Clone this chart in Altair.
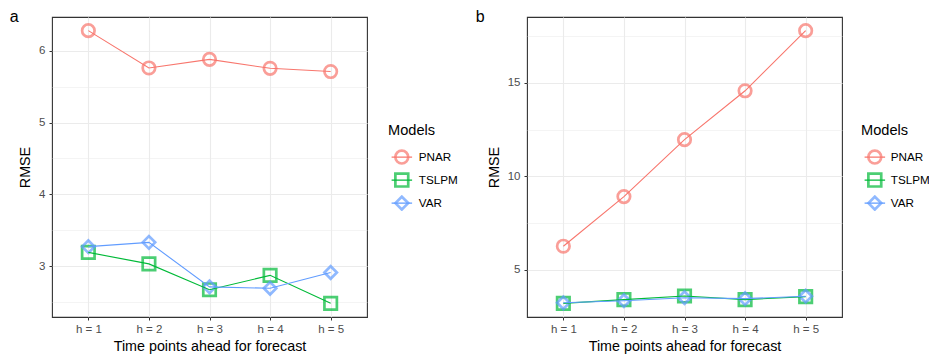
import altair as alt
import pandas as pd

horizons = ["h = 1", "h = 2", "h = 3", "h = 4", "h = 5"]
models = ["PNAR", "TSLPM", "VAR"]
colors = ["#F8766D", "#00BA38", "#619CFF"]
shapes = ["circle", "square", "diamond"]

# panel a
a_pnar = [6.28, 5.76, 5.88, 5.755, 5.71]
a_tslpm = [3.19, 3.03, 2.67, 2.87, 2.48]
a_var = [3.27, 3.33, 2.71, 2.69, 2.91]
# panel b
b_pnar = [6.27, 8.92, 11.96, 14.57, 17.78]
b_tslpm = [3.22, 3.42, 3.61, 3.42, 3.58]
b_var = [3.25, 3.36, 3.52, 3.47, 3.60]

FONT = "Liberation Sans"
W, H = 315, 300
LEG_Y = 105.5
TITLE_PAD = 12


def make_df(series):
    rows = []
    for m, vals in zip(models, series):
        for h, v in zip(horizons, vals):
            rows.append({"Model": m, "h": h, "RMSE": v})
    return pd.DataFrame(rows)


def legend(lx, **kw):
    base = dict(
        orient="none", legendX=W + lx, legendY=LEG_Y,
        titleFont=FONT, titleFontSize=14.6, titleFontWeight="normal", titleColor="black",
        labelFont=FONT, labelFontSize=11.7, labelColor="black",
        titlePadding=TITLE_PAD, rowPadding=7, clipHeight=16, padding=0,
    )
    base.update(kw)
    return alt.Legend(**base)


def panel(df, letter, domain, yvals, major, dx, lx, loff):
    minor = f"datum.value % {major} !== 0"
    x = alt.X(
        "h:N", sort=horizons,
        scale=alt.Scale(type="point", padding=0.6),
        axis=alt.Axis(title="Time points ahead for forecast", labelAngle=0, grid=True,
                      gridWidth=1.1, labelPadding=3, titlePadding=5),
    )
    y = alt.Y(
        "RMSE:Q",
        scale=alt.Scale(domain=domain, nice=False, zero=False),
        axis=alt.Axis(
            title="RMSE", values=yvals,
            labelExpr=f"datum.value % {major} === 0 ? format(datum.value, 'd') : ''",
            tickOpacity={"condition": {"test": minor, "value": 0}, "value": 1},
            gridWidth={"condition": {"test": minor, "value": 0.55}, "value": 1.1},
            labelPadding=4, titlePadding=6,
        ),
    )
    base = alt.Chart(df)
    pts_leg = dict(title="Models", symbolStrokeWidth=2.7, symbolSize=165,
                   symbolOffset=5.8, labelOffset=loff)
    pts = base.mark_point(filled=False, strokeWidth=2.7, opacity=0.7, size=155).encode(
        x=x, y=y,
        color=alt.Color("Model:N", scale=alt.Scale(range=colors), legend=legend(lx, **pts_leg)),
        shape=alt.Shape("Model:N", scale=alt.Scale(range=shapes), legend=legend(lx, **pts_leg)),
    )
    lines = base.mark_line(strokeWidth=1.1).encode(
        x=x, y=y,
        stroke=alt.Stroke("Model:N", scale=alt.Scale(domain=models, range=colors),
                          legend=legend(lx, title=None, legendY=LEG_Y + 14.6 + TITLE_PAD,
                                        symbolType="stroke", symbolSize=420,
                                        symbolStrokeWidth=1.1, symbolOffset=2.85,
                                        labelExpr="''", zindex=1, symbolOpacity=1)),
    )
    return alt.layer(pts, lines).properties(
        width=W, height=H,
        title=alt.TitleParams(letter, anchor="start", frame="group", dx=dx, offset=-8,
                              fontSize=16, fontWeight="normal", font=FONT, color="black"),
    )


pa = panel(make_df([a_pnar, a_tslpm, a_var]), "a", [2.29, 6.47],
           [2.5, 3, 3.5, 4, 4.5, 5, 5.5, 6], 1, -42.3, 21, 9)
pb = panel(make_df([b_pnar, b_tslpm, b_var]), "b", [2.49, 18.51],
           [5, 7.5, 10, 12.5, 15, 17.5], 5, -51.3, 19, 8)

chart = (
    alt.hconcat(pa, pb, spacing=16)
    .resolve_scale(y="independent", color="independent", shape="independent", stroke="independent")
    .resolve_legend(color="independent", shape="independent", stroke="independent")
    .properties(padding={"left": 1, "top": 0, "right": -2, "bottom": 0}, background="white")
    .configure_view(stroke="#333333", strokeWidth=1.1)
    .configure_axis(
        domain=False, gridColor="#EBEBEB", tickColor="#333333", tickSize=3,
        labelColor="#4D4D4D", labelFont=FONT, labelFontSize=11.5,
        titleFont=FONT, titleFontSize=14.3, titleFontWeight="normal", titleColor="black",
    )
)

chart.save("out.html", embed_options={"renderer": "svg", "actions": False})
